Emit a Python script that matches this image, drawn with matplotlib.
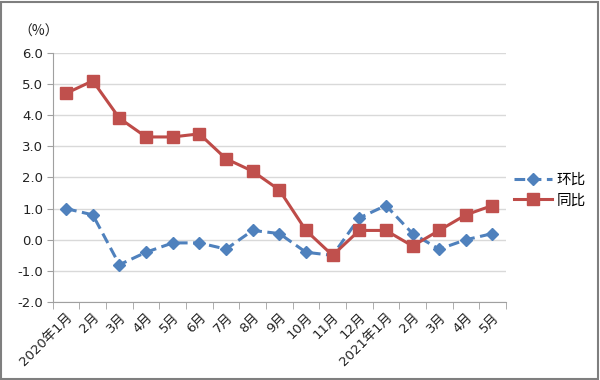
import numpy as np
import matplotlib.pyplot as plt
from matplotlib.patches import Rectangle

plt.rcParams['font.family'] = ['DejaVu Sans', 'Noto Sans CJK SC']

months = ["2020年1月", "2月", "3月", "4月", "5月", "6月", "7月", "8月", "9月",
          "10月", "11月", "12月", "2021年1月", "2月", "3月", "4月", "5月"]
mom = [1.0, 0.8, -0.8, -0.4, -0.1, -0.1, -0.3, 0.3, 0.2, -0.4, -0.5, 0.7, 1.1, 0.2, -0.3, 0.0, 0.2]
yoy = [4.7, 5.1, 3.9, 3.3, 3.3, 3.4, 2.6, 2.2, 1.6, 0.3, -0.5, 0.3, 0.3, -0.2, 0.3, 0.8, 1.1]

fig = plt.figure(figsize=(6, 3.8), dpi=100)
ax = fig.add_axes([0.088, 0.205, 0.755, 0.656])

x = np.arange(len(months))
ax.plot(x, mom, color="#4F81BD", linestyle=(0, (3.5, 1.8)), linewidth=2.2,
        marker="D", markersize=6.5, label="环比")
ax.plot(x, yoy, color="#BE4B48", linewidth=2.2, marker="s", markersize=8,
        markerfacecolor="#C0504D", markeredgecolor="#C0504D", label="同比")

ax.set_xlim(-0.5, len(months) - 0.5)
ax.set_ylim(-2, 6)
ax.set_yticks(np.arange(-2, 7, 1))
ax.set_yticklabels([f"{v:.1f}" for v in np.arange(-2, 7, 1)], fontsize=9.5, color="#222222")
ax.yaxis.grid(True, color="#D9D9D9", linewidth=1)
ax.set_axisbelow(True)

ax.set_xticks(x)
ax.set_xticklabels(months, rotation=45, ha="right", rotation_mode="anchor",
                   fontsize=9.5, color="#222222",
                   fontfamily=['DejaVu Sans', 'Noto Sans CJK SC'])
ax.set_xticks(np.arange(-0.5, len(months), 1), minor=True)
ax.tick_params(axis="x", which="major", length=0, pad=6)
ax.tick_params(axis="x", which="minor", length=5, color="#A0A0A0", direction="out")
ax.tick_params(axis="y", length=4, color="#A0A0A0", direction="out", pad=3)

for s in ["top", "right"]:
    ax.spines[s].set_visible(False)
for s in ["left", "bottom"]:
    ax.spines[s].set_color("#A0A0A0")

fig.text(0.03, 0.905, "（%）", fontsize=10, color="#222222",
         fontfamily=['Noto Sans CJK SC', 'DejaVu Sans'])

fig.legend(loc="upper left", bbox_to_anchor=(0.835, 0.58), frameon=False,
           prop={'family': 'Noto Sans CJK SC', 'size': 10.5},
           handlelength=2.6, handletextpad=0.3, labelspacing=0.45)

fig.patches.append(Rectangle((0.002, 0.003), 0.994, 0.993, transform=fig.transFigure,
                             fill=False, edgecolor="#7F7F7F", linewidth=1.5))

plt.savefig("out.png", dpi=100)
